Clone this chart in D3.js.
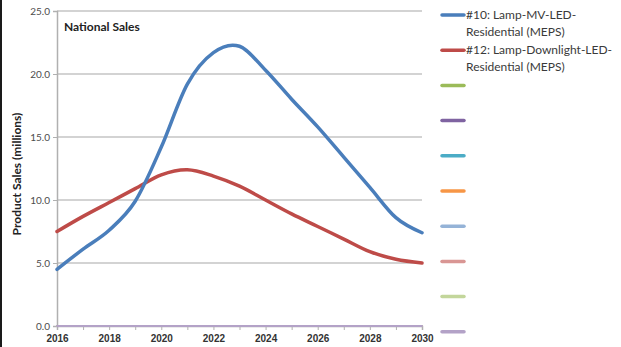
<!DOCTYPE html>
<html>
<head>
<meta charset="utf-8">
<script src="https://cdn.jsdelivr.net/npm/d3@7"></script>
<style>
  html, body { margin: 0; padding: 0; background: #fff; }
  svg { display: block; font-family: Lato, "Open Sans", sans-serif; }
</style>
</head>
<body>
<svg id="chart" width="621" height="347"></svg>
<script>
// Years on the horizontal axis
const years = [2016, 2017, 2018, 2019, 2020, 2021, 2022, 2023, 2024, 2025, 2026, 2027, 2028, 2029, 2030];
const xTickLabels = [2016, 2018, 2020, 2022, 2024, 2026, 2028, 2030];
const yTickValues = [0, 5, 10, 15, 20, 25];

// Product sales (millions)
const lampMvLed = [4.5, 6.1, 7.6, 9.9, 14.2, 19.2, 21.7, 22.2, 20.3, 18.0, 15.8, 13.4, 11.0, 8.6, 7.4];
const lampDownlightLed = [7.5, 8.7, 9.8, 10.9, 12.0, 12.4, 11.9, 11.1, 10.0, 8.9, 7.9, 6.9, 5.9, 5.3, 5.0];
const zeros = years.map(() => 0);

const seriesNames = [
  "#10: Lamp-MV-LED-Residential (MEPS)",
  "#12: Lamp-Downlight-LED-Residential (MEPS)",
  "", "", "", "", "", "", "", ""
];
const seriesValues = [lampMvLed, lampDownlightLed, zeros, zeros, zeros, zeros, zeros, zeros, zeros, zeros];
const seriesColors = ["#4A7EBB", "#BE4B48", "#9BBB59", "#7F63A1", "#4BACC6", "#F79646",
                      "#95B3D7", "#D99694", "#C3D69B", "#B3A2C7"];

const svg = d3.select("#chart");
const plot = { left: 57, right: 422, top: 11, bottom: 326 };

const x = d3.scaleLinear().domain([2016, 2030]).range([plot.left, plot.right]);
const y = d3.scaleLinear().domain([0, 25]).range([plot.bottom, plot.top]);

// left frame edge
svg.append("rect").attr("x", 0).attr("y", 0).attr("width", 2).attr("height", 347).attr("fill", "#1a1a1a");

// horizontal gridlines
svg.append("g")
  .selectAll("line")
  .data(yTickValues.filter(v => v > 0))
  .join("line")
  .attr("x1", plot.left).attr("x2", plot.right)
  .attr("y1", d => y(d)).attr("y2", d => y(d))
  .attr("stroke", "#a8a8a8").attr("stroke-width", 1.2);

// y axis
const yAxis = d3.axisLeft(y).tickValues(yTickValues).tickFormat(d3.format(".1f")).tickSize(4).tickPadding(3);
const gy = svg.append("g").attr("transform", `translate(${plot.left},0)`).call(yAxis);
gy.select(".domain").attr("stroke", "#b0b0b0").attr("stroke-width", 1.5);
gy.selectAll(".tick line").attr("stroke", "#b0b0b0");
gy.selectAll(".tick text").attr("fill", "#4d4d4d").style("font-size", "10px").attr("font-family", "Lato, sans-serif");

// x axis
const xAxis = d3.axisBottom(x).tickValues(years).tickSize(4).tickPadding(5)
  .tickFormat(d => xTickLabels.includes(d) ? d : "");
const gx = svg.append("g").attr("transform", `translate(0,${plot.bottom})`).call(xAxis);
gx.select(".domain").attr("stroke", "#b0b0b0").attr("stroke-width", 1.5);
gx.selectAll(".tick line").attr("stroke", "#b0b0b0");
gx.selectAll(".tick text").attr("fill", "#333").style("font-size", "10px").style("font-weight", "bold");

// y axis title
svg.append("text")
  .attr("transform", `translate(21,174) rotate(-90)`)
  .attr("text-anchor", "middle")
  .style("font-size", "12px").style("font-weight", "bold").attr("fill", "#222")
  .text("Product Sales (millions)");

// chart label
svg.append("text")
  .attr("x", 64).attr("y", 31)
  .style("font-size", "12px").style("font-weight", "bold").attr("fill", "#222")
  .text("National Sales");

// series lines (empty series drawn first, in reverse, so the last sits on top at zero)
const line = d3.line()
  .x((d, i) => x(years[i]))
  .y(d => y(d))
  .curve(d3.curveCatmullRom.alpha(0));

const order = [2, 3, 4, 5, 6, 7, 8, 9, 1, 0];
svg.append("g")
  .selectAll("path")
  .data(order)
  .join("path")
  .attr("d", i => line(seriesValues[i]))
  .attr("fill", "none")
  .attr("stroke", i => seriesColors[i])
  .attr("stroke-width", i => i < 2 ? 3.5 : 2)
  .attr("stroke-linecap", "round");

// legend
const legend = svg.append("g");
const legendTop = 15, legendStep = 35.2;
seriesNames.forEach((name, i) => {
  const ly = legendTop + i * legendStep;
  legend.append("line")
    .attr("x1", 442).attr("x2", 464)
    .attr("y1", ly).attr("y2", ly)
    .attr("stroke", seriesColors[i]).attr("stroke-width", 3.5)
    .attr("stroke-linecap", "round");
  if (name) {
    const parts = name.match(/^(.*LED-)(Residential.*)$/);
    const t = legend.append("text")
      .attr("x", 466).attr("y", ly + 4)
      .style("font-size", "12px").attr("fill", "#3a3a3a");
    t.append("tspan").attr("x", 466).text(parts[1]);
    t.append("tspan").attr("x", 466).attr("dy", 17).text(parts[2]);
  }
});
</script>
</body>
</html>
